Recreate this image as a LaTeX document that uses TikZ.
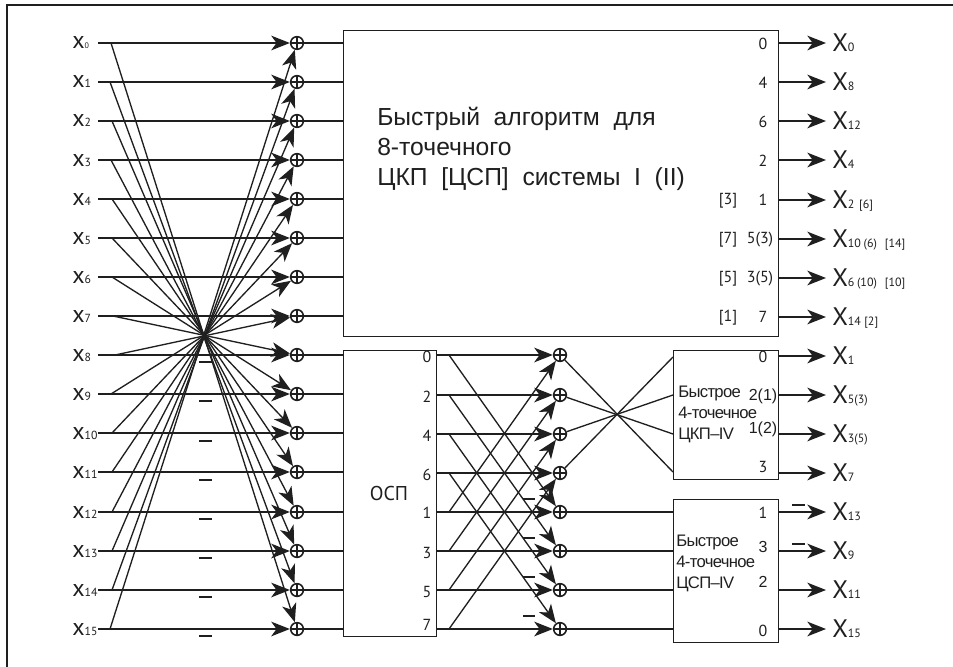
\documentclass[tikz,border=0pt]{standalone}
\usepackage{fontspec}
\usetikzlibrary{arrows.meta}
\setmainfont{Liberation Sans}
\newfontfamily\lab{PT Sans}
\newfontfamily\tight[LetterSpace=-4]{Liberation Sans}
\definecolor{ink}{gray}{0.12}
\newcommand{\smx}[2][8.8]{{\lab\fontsize{18}{20}\selectfont x}{\lab\fontsize{#1}{10}\selectfont #2}}
\newcommand{\bigX}[1]{{\lab\fontsize{19}{21}\selectfont X}{\lab\fontsize{9}{10}\selectfont #1}}
\tikzset{
  wire/.style={line width=1pt,draw=ink},
  arr/.style={wire,-{Stealth[length=14pt,width=11pt,inset=4pt]}},
  minus/.style={line width=1.2pt,draw=ink},
  sumnode/.style={circle,draw=ink,line width=1.2pt,fill=white,minimum size=9.5pt,inner sep=0pt,
    path picture={\draw[line width=.8pt,draw=ink] (path picture bounding box.north)--(path picture bounding box.south)
      (path picture bounding box.west)--(path picture bounding box.east);}},
  blk/.style={rectangle,draw=ink,line width=1.1pt,anchor=north west,inner sep=0pt},
  inl/.style={anchor=west,inner sep=0pt,text height=9pt,text depth=0pt,text=ink},
  outl/.style={anchor=west,inner ysep=0pt,inner xsep=4.5pt,text height=13pt,text depth=0pt,text=ink},
  idx/.style={inner sep=0pt,text=ink,font=\lab\fontsize{12}{14}\selectfont},
  idxa/.style={inner sep=0pt,text=ink,font=\fontsize{12}{14}\selectfont},
  blocktext/.style={anchor=west,inner sep=0pt,align=left,text=ink,font=\tight\fontsize{12.5}{15.75}\selectfont},
}
\begin{document}
\begin{tikzpicture}[x=0.75pt,y=-0.75pt]
\useasboundingbox (0,0) rectangle (953,667);
\draw[line width=1.5pt,draw=ink] (953,5) coordinate (fa) -- (7,5) coordinate (fb) -- (7,667) coordinate (fc);
% blocks
\node[blk,minimum width=435*0.75pt,minimum height=306*0.75pt] (big) at (343,30) {};
\node[blk,minimum width=93*0.75pt,minimum height=286*0.75pt] (osp) at (343,350) {};
\node[blk,minimum width=105*0.75pt,minimum height=129*0.75pt] (bc) at (673,350) {};
\node[blk,minimum width=105*0.75pt,minimum height=143*0.75pt] (bs) at (673,499) {};
% input rows
\foreach \i/\y/\s/\lx in {1/82/110/72,2/121/112/72,3/160/111/72,4/199/112/72,5/238/112/72,6/277/112/72,7/316/113/72,
  8/355/115/72,9/394/111/72,10/433/112/72,11/472/112/72,12/512/112/72,13/551/112/72,14/590/112/72,15/629/110/72}{
  \node[inl] (x\i) at (\lx,\y) {\smx{\i}};
}
\node[inl] (x0) at (72,43) {\smx[6]{0}};
\foreach \i/\y/\s in {0/43/111,1/82/110,2/121/112,3/160/111,4/199/112,5/238/112,6/277/112,7/316/113,
  8/355/115,9/394/111,10/433/112,11/472/112,12/512/112,13/551/112,14/590/112,15/629/110}{
  \coordinate (w\i) at (98,\y);
  \coordinate (s\i) at (\s,\y);
  \node[sumnode] (c\i) at (297,\y) {};
  \draw[arr] (w\i) -- (c\i);
  \draw[wire] (c\i) -- (c\i -| big.west);
}
\foreach \i in {0,...,15}{
  \pgfmathtruncatemacro{\j}{15-\i}
  \draw[arr] (s\i) -- (c\j);
}
\foreach \y in {362,401,441,480,519,558,597,636}{
  \coordinate (ma) at (199,\y); \coordinate (mb) at (212,\y);
  \draw[minus] (ma) -- (mb);
}
% second stage
\foreach \i/\y/\t/\ty in {0/355/0/357,1/395/2/397,2/434/4/436,3/473/6/475,4/512/1/513,5/551/3/553,6/590/5/592,7/629/7/625}{
  \node[sumnode] (d\i) at (560,\y) {};
  \coordinate (o\i) at (436,\y);
  \coordinate (t\i) at (449,\y);
  \draw[arr] (o\i) -- (d\i);
  \node[idx] (ol\i) at (427,\ty) {\t};
}
\foreach \i/\j in {0/4,1/5,2/6,3/7,4/0,5/1,6/2,7/3}{
  \draw[arr] (t\i) -- (d\j);
}
\foreach \y in {499,538,577,616}{
  \coordinate (na) at (523,\y); \coordinate (nb) at (535,\y);
  \draw[minus] (na) -- (nb);
}
\node[inner sep=0pt,text=ink,font=\lab\fontsize{15}{17}\selectfont] (osptext) at (389,493) {ОСП};
% cross to CKP-IV
\coordinate (e0) at (673,472); \coordinate (e1) at (673,434); \coordinate (e2) at (673,395); \coordinate (e3) at (673,357);
\foreach \i in {0,1,2,3}{ \draw[wire] (d\i) -- (e\i); }
\foreach \i in {4,5,6,7}{ \draw[wire] (d\i) -- (d\i -| bs.west); }
% outputs
\foreach \n/\y/\t in {a/43/0,b/82/8,c/121/12,d/160/4,e/200/2\hspace{3.5pt}[6],f/239/10\hspace{2pt}(6)\hspace{6pt}[14],g/278/6\hspace{2pt}(10)\hspace{6pt}[10],h/317/14\hspace{2.5pt}[2],
  i/356/1,j/395/5(3),k/434/3(5),l/473/7,m/512/13,n/551/9,p/590/11,q/629/15}{
  \coordinate (r\n) at (778,\y);
  \node[outl] (X\n) at (826,\y) {\bigX{\t}};
  \draw[arr] (r\n) -- (X\n.west);
}
\foreach \y in {505,544}{
  \coordinate (pa) at (792,\y); \coordinate (pb) at (805,\y);
  \draw[minus] (pa) -- (pb);
}
% big block labels
\foreach \t/\y in {0/44,4/83,6/122,2/161,1/200}{ \node[idx] at (763,\y) {\t}; }
\node[idx] (l53) at (760,240) {5(3)};
\node[idx] (l35) at (760,279) {3(5)};
\node[idx] (l7) at (763,317) {7};
\node[idx] (k3) at (728,201) {[3]};
\node[idx] (k7) at (728,240) {[7]};
\node[idx] (k5) at (728,279) {[5]};
\node[idx] (k1) at (728,318) {[1]};
\node[anchor=west,inner sep=0pt,align=left,text=ink,font=\fontsize{18.5}{22.5}\selectfont] (title) at (377,149)
  {Быстрый\ \ алгоритм\ \ для\\8-точечного\\ЦКП\ \ [ЦСП]\ \ системы\ \ I\ \ (II)};
% CKP-IV labels
\node[blocktext] (tc) at (678,414) {Быстрое\\4-точечное\\ЦКП–IV};
\node[idx] (c0l) at (763,357) {0};
\node[idxa] (c21) at (763,396) {2(1)};
\node[idxa] (c12) at (763,429) {1(2)};
\node[idx] (c3l) at (763,467) {3};
% CSP-IV labels
\node[blocktext] (ts) at (676,563) {Быстрое\\4-точечное\\ЦСП–IV};
\node[idx] (s1) at (763,513) {1};
\node[idxa] (s3) at (763,547) {3};
\node[idxa] (s2) at (763,582) {2};
\node[idx] (s0) at (763,631) {0};
\end{tikzpicture}
\end{document}
